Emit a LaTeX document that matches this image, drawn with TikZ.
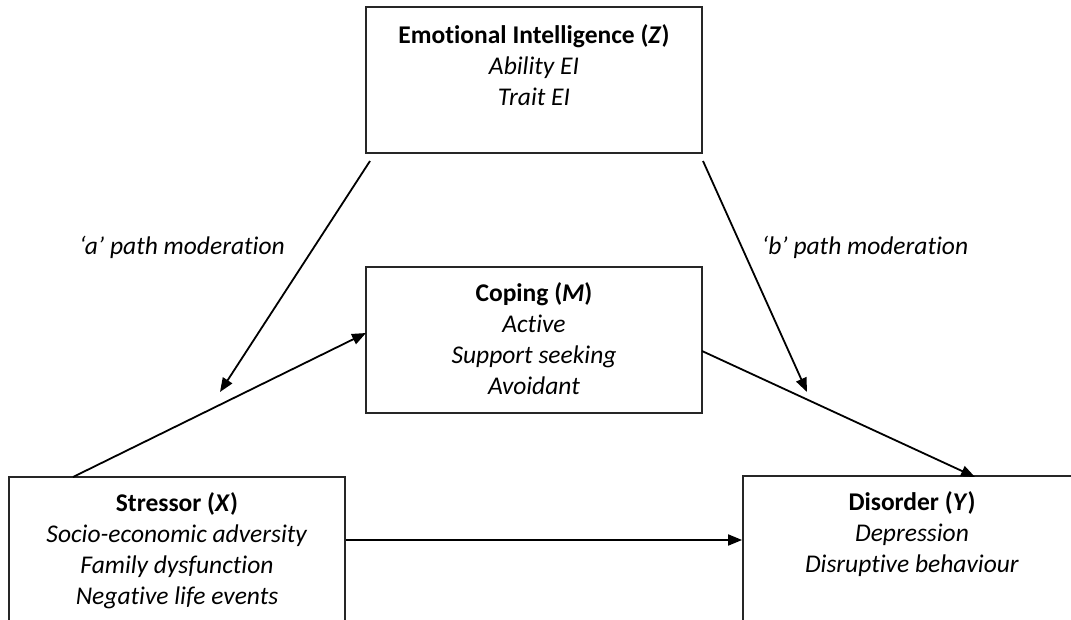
\documentclass[tikz,border=0pt]{standalone}
\usepackage{fontspec}
\setmainfont[Ligatures=NoCommon]{Carlito}
\usetikzlibrary{arrows.meta}
\begin{document}
\begin{tikzpicture}[x=1pt,y=-1pt,
  box/.style={draw=black!85,line width=1.8pt,rectangle,inner sep=0pt},
  txt/.style={align=center,inner sep=0pt,font=\fontsize{25.5}{31}\selectfont},
  conn/.style={line width=1.8pt,-{Triangle[length=14pt,width=11pt]}},
  lab/.style={inner sep=0pt,font=\fontsize{25.5}{30}\selectfont\itshape}]
\clip (0,0) rectangle (1071,620);
\fill[white] (0,0) rectangle (1071,620);
% boxes
\node[box,minimum width=336pt,minimum height=146pt] (Zbox) at (534,80) {};
\node[box,minimum width=336pt,minimum height=146pt] (Mbox) at (534,340) {};
\node[box,minimum width=336pt,minimum height=180pt] (Xbox) at (177,567) {};
\node[box,minimum width=340pt,minimum height=180pt] (Ybox) at (913,566) {};
% texts
\node[txt,anchor=north] (Ztxt) at (534,24) {\textbf{Emotional Intelligence (\textit{Z})}\\\textit{Ability EI}\\\textit{Trait EI}};
\node[txt,anchor=north] (Mtxt) at (534,282) {\textbf{Coping (\textit{M})}\\\textit{Active}\\\textit{Support seeking}\\\textit{Avoidant}};
\node[txt,anchor=north] (Xtxt) at (177,492) {\textbf{Stressor (\textit{X})}\\\textit{Socio-economic adversity}\\\textit{Family dysfunction}\\\textit{Negative life events}};
\node[txt,anchor=north] (Ytxt) at (912,491) {\textbf{Disorder (\textit{Y})}\\\textit{Depression}\\\textit{Disruptive behaviour}};
% labels
\node[lab] (alab) at (182,247) {‘a’ path moderation};
\node[lab] (blab) at (865,247) {‘b’ path moderation};
% connector ends
\coordinate (a1) at (370,161);
\coordinate (a2) at (220,392);
\coordinate (b1) at (703,161);
\coordinate (b2) at (807,392);
\coordinate (x1) at (73,477);
\coordinate (m1) at (366,333);
\coordinate (m2) at (702,351);
\coordinate (y1) at (975,477);
% connectors
\draw[conn] (a1) -- (a2);
\draw[conn] (b1) -- (b2);
\draw[conn] (x1) -- (m1);
\draw[conn] (m2) -- (y1);
\draw[conn] (Xbox.east |- 0,540) -- (Ybox.west |- 0,540);
\end{tikzpicture}
\end{document}
